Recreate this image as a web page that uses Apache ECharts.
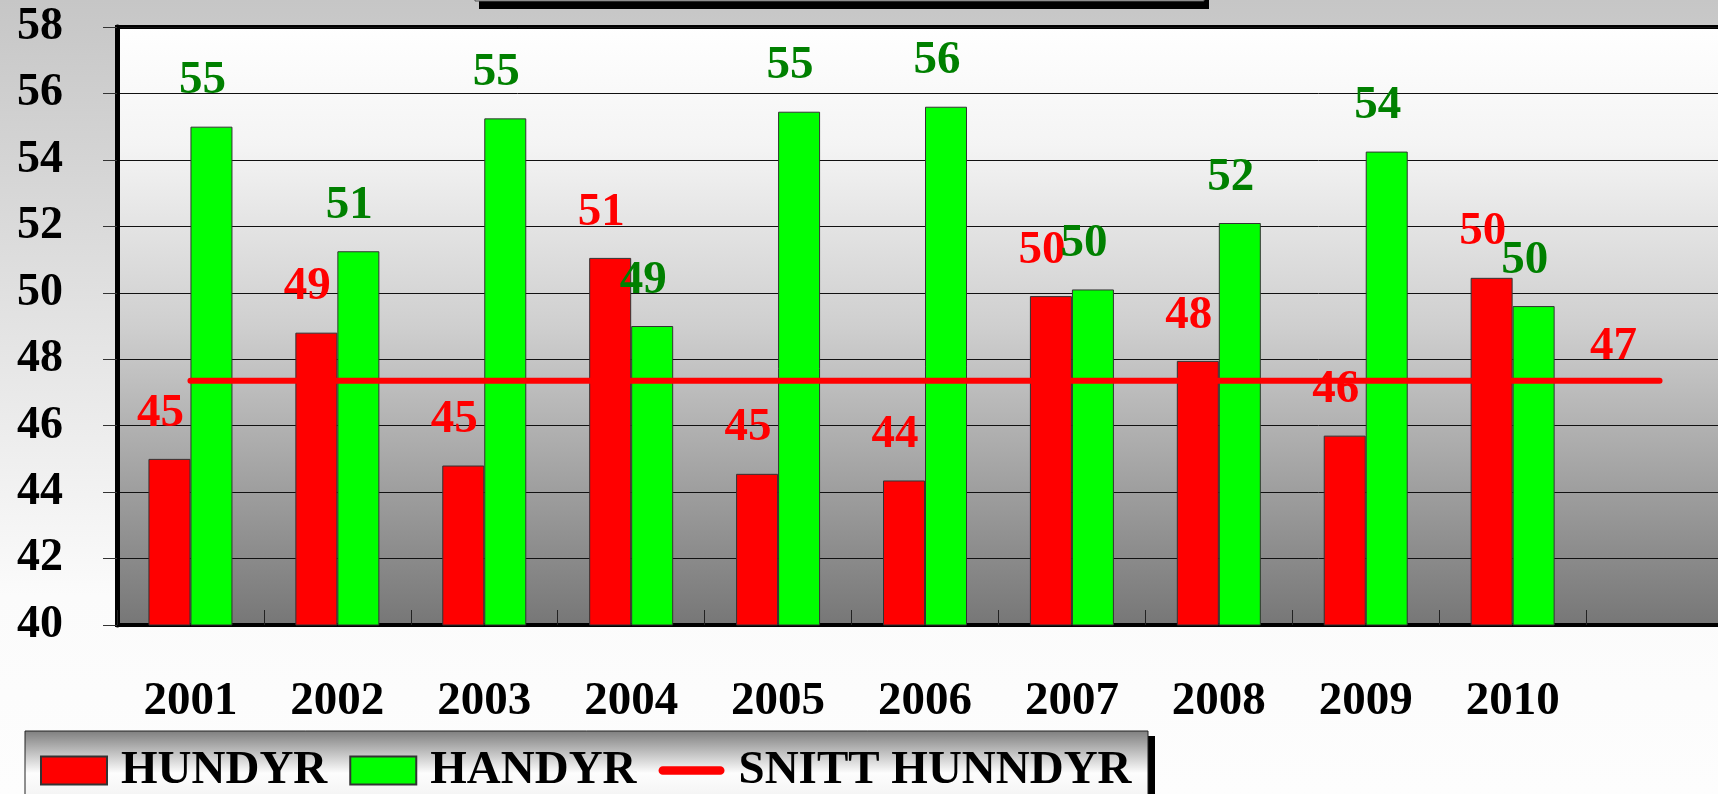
<!DOCTYPE html>
<html>
<head>
<meta charset="utf-8">
<title>HUNDYR / HANDYR</title>
<script src="https://cdn.jsdelivr.net/npm/echarts@6/dist/echarts.min.js"></script>
<style>
  html, body { margin: 0; padding: 0; }
  #chart { width: 1718px; height: 794px; }
</style>
</head>
<body>
<div id="chart"></div>
<script>
// kategorier (siste er tom, der snitt-linja slutter)
const years = ['2001', '2002', '2003', '2004', '2005', '2006', '2007', '2008', '2009', '2010', ''];
const hundyr = [45.0, 48.8, 44.8, 51.05, 44.55, 44.35, 49.9, 47.95, 45.7, 50.45];
const handyr = [55.0, 51.25, 55.25, 49.0, 55.45, 55.6, 50.1, 52.1, 54.25, 49.6];
const snitt = [47.35, 47.35, 47.35, 47.35, 47.35, 47.35, 47.35, 47.35, 47.35, 47.35, 47.35];
const yTicks = { min: 40, max: 58, step: 2 };

const FONT = '"Liberation Serif", "Times New Roman", serif';

const chart = echarts.init(document.getElementById('chart'));

const snittData = snitt.map((v, i) => {
  if (i < snitt.length - 1) return v;
  // bare siste punkt har etikett
  return {
    value: v,
    symbol: 'circle',
    symbolSize: 1,
    label: {
      show: true, position: 'top', distance: 10, offset: [-46, 0],
      color: '#ff0000', fontSize: 47, fontWeight: 'bold', fontFamily: FONT,
      formatter: p => Math.round(p.value)
    }
  };
});

const option = {
  animation: false,
  backgroundColor: {
    type: 'linear', x: 0, y: 0, x2: 0, y2: 1,
    colorStops: [
      { offset: 0, color: '#c6c6c6' },
      { offset: 0.75, color: '#fbfbfb' },
      { offset: 1, color: '#fdfdfd' }
    ]
  },
  graphic: [
    // avkuttet tittelboks oppe
    { type: 'rect', shape: { x: 479, y: 0, width: 730, height: 9 }, style: { fill: '#000' }, z: 1 },
    { type: 'rect', shape: { x: 475, y: -10, width: 729, height: 11 }, style: { fill: '#c8c8c8', stroke: '#555', lineWidth: 1 }, z: 2 },
    // legend-boks
    { type: 'rect', shape: { x: 31, y: 736, width: 1124, height: 70 }, style: { fill: '#000' }, z: 1 },
    {
      type: 'rect', shape: { x: 25, y: 731, width: 1123, height: 70 },
      style: {
        stroke: '#222', lineWidth: 1,
        fill: {
          type: 'linear', x: 0, y: 0, x2: 0, y2: 1,
          colorStops: [
            { offset: 0, color: '#7e7e7e' },
            { offset: 0.6, color: '#fdfdfd' },
            { offset: 1, color: '#f2f2f2' }
          ]
        }
      },
      z: 2
    }
  ],
  legend: {
    left: 40,
    top: 747,
    padding: 0,
    itemGap: 22,
    itemWidth: 66,
    itemHeight: 28,
    z: 10,
    textStyle: { fontSize: 47, fontWeight: 'bold', fontFamily: FONT, color: '#000', padding: [0, 0, 0, 9] },
    data: [
      { name: 'HUNDYR', icon: 'rect' },
      { name: 'HANDYR', icon: 'rect' },
      { name: 'SNITT HUNNDYR', icon: 'path://M4,0 L57,0 A4,4 0 0 1 57,8 L4,8 A4,4 0 0 1 4,0 Z', itemStyle: { color: '#ff0000', borderWidth: 0 } }
    ]
  },
  grid: {
    left: 117,
    top: 27,
    bottom: 169,
    right: -15,
    outerBoundsMode: 'none',
    containLabel: false,
    show: true,
    borderColor: '#000',
    borderWidth: 4,
    backgroundColor: {
      type: 'linear', x: 0, y: 0, x2: 0, y2: 1,
      colorStops: [
        { offset: 0, color: '#ffffff' },
        { offset: 0.2, color: '#f4f4f4' },
        { offset: 0.5, color: '#cfcfcf' },
        { offset: 1, color: '#767676' }
      ]
    }
  },
  xAxis: {
    type: 'category',
    data: years,
    axisLine: { lineStyle: { color: '#000', width: 4 } },
    axisTick: { show: true, inside: true, length: 15, lineStyle: { color: '#222', width: 1 } },
    axisLabel: { margin: 53, color: '#000', fontSize: 47, fontWeight: 'bold', fontFamily: FONT },
    splitLine: { show: false }
  },
  yAxis: {
    type: 'value',
    min: yTicks.min,
    max: yTicks.max,
    interval: yTicks.step,
    axisLine: { show: true, lineStyle: { color: '#000', width: 5 } },
    axisTick: { show: true, length: 14, lineStyle: { color: '#333', width: 1 } },
    axisLabel: { margin: 54, color: '#000', fontSize: 46, fontWeight: 'bold', fontFamily: FONT },
    splitLine: { show: true, lineStyle: { color: '#111', width: 1 } }
  },
  series: [
    {
      name: 'HUNDYR',
      type: 'bar',
      data: hundyr,
      barWidth: 42,
      barGap: '0%',
      itemStyle: { color: '#ff0000', borderColor: '#333', borderWidth: 1 },
      label: {
        show: true, position: 'top', distance: 22, offset: [-9, 0],
        color: '#ff0000', fontSize: 47, fontWeight: 'bold', fontFamily: FONT,
        formatter: p => Math.round(p.value)
      }
    },
    {
      name: 'HANDYR',
      type: 'bar',
      data: handyr,
      barWidth: 42,
      barGap: '0%',
      itemStyle: { color: '#00ff00', borderColor: '#333', borderWidth: 1 },
      label: {
        show: true, position: 'top', distance: 22, offset: [-9, 0],
        color: '#008000', fontSize: 47, fontWeight: 'bold', fontFamily: FONT,
        formatter: p => Math.round(p.value)
      }
    },
    {
      name: 'SNITT HUNNDYR',
      type: 'line',
      data: snittData,
      symbol: 'none',
      color: '#ff0000',
      lineStyle: { color: '#ff0000', width: 6, cap: 'round' },
      z: 5
    }
  ]
};

chart.setOption(option);
window.addEventListener('resize', () => chart.resize());
</script>
</body>
</html>
